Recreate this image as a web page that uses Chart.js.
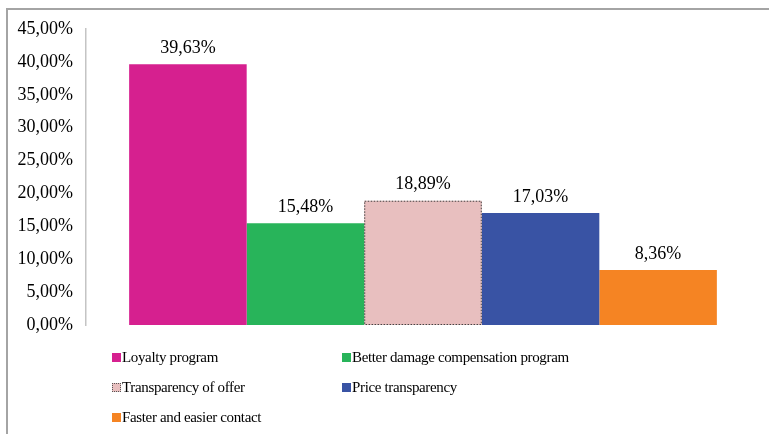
<!DOCTYPE html>
<html>
<head>
<meta charset="utf-8">
<script src="https://cdn.jsdelivr.net/npm/chart.js@4/dist/chart.umd.min.js"></script>
<style>
	html, body { margin: 0; padding: 0; background: #fff; }
	#wrap { position: relative; width: 769px; height: 434px; overflow: hidden; }
	#frame { position: absolute; left: 6px; top: 8px; width: 800px; height: 500px;
		border-top: 2px solid #a4a4a4; border-left: 2px solid #a4a4a4; }
	canvas { position: absolute; left: 0; top: 0; }
	#legend { position: absolute; left: 112px; top: 342px; display: grid;
		grid-template-columns: 230px 300px; grid-auto-rows: 30px;
		font-family: 'Liberation Serif', 'Times New Roman', serif; font-size: 15px;
		letter-spacing: -0.35px; color: #000; }
	#legend .item { display: flex; align-items: center; white-space: nowrap; }
	#legend .box { width: 9px; height: 9px; margin-right: 1px; box-sizing: border-box; }
</style>
</head>
<body>
<div id="wrap">
	<div id="frame"></div>
	<canvas id="myChart" width="769" height="434"></canvas>
	<div id="legend"></div>
</div>
<script>
// data
const seriesNames = [
	'Loyalty program',
	'Better damage compensation program',
	'Transparency of offer',
	'Price transparency',
	'Faster and easier contact',
];
const seriesValues = [39.63, 15.48, 18.89, 17.03, 8.36];
const seriesColors = ['#d6208f', '#28b45a', '#e8bfbf', '#3953a4', '#f58423'];
const yTicks = [0, 5, 10, 15, 20, 25, 30, 35, 40, 45];

const fmt = (v) => v.toFixed(2).replace('.', ',') + '%';

Chart.defaults.font.family = "'Liberation Serif', 'Times New Roman', serif";
Chart.defaults.color = '#000';

// value labels above bars + dotted outline on the light pink bar
const valueLabels = {
	id: 'valueLabels',
	afterDatasetsDraw(chart) {
		const ctx = chart.ctx;
		ctx.save();
		// dotted border (bars do not support borderDash)
		const pb = chart.getDatasetMeta(2).data[0];
		ctx.strokeStyle = '#444';
		ctx.lineWidth = 1;
		ctx.setLineDash([1.5, 1.5]);
		ctx.strokeRect(pb.x - pb.width / 2 + 0.5, pb.y + 0.5, pb.width - 1, pb.base - pb.y - 1);
		ctx.setLineDash([]);

		ctx.font = "18px 'Liberation Serif', 'Times New Roman', serif";
		ctx.fillStyle = '#000';
		ctx.textAlign = 'center';
		ctx.textBaseline = 'bottom';
		chart.data.datasets.forEach((ds, i) => {
			const bar = chart.getDatasetMeta(i).data[0];
			ctx.fillText(fmt(ds.data[0]), bar.x, bar.y - 7);
		});
		ctx.restore();
	},
};

const ctx = document.getElementById('myChart').getContext('2d');
const myChart = new Chart(ctx, {
	type: 'bar',
	data: {
		labels: [''],
		datasets: seriesNames.map((name, i) => ({
			label: name,
			data: [seriesValues[i]],
			backgroundColor: seriesColors[i],
			borderWidth: 0,
		})),
	},
	options: {
		responsive: false,
		animation: false,
		layout: {
			padding: { left: 0, top: 29, right: 9, bottom: 109 },
		},
		datasets: {
			bar: { barPercentage: 1, categoryPercentage: 0.872 },
		},
		plugins: {
			legend: { display: false },
			tooltip: { enabled: false },
		},
		scales: {
			x: { display: false },
			y: {
				min: 0,
				max: 45,
				afterFit: (scale) => { scale.width = 86; },
				afterBuildTicks: (scale) => { scale.ticks = yTicks.map((v) => ({ value: v })); },
				grid: { display: false, drawTicks: false },
				border: { display: true, color: '#c4c4c4', width: 1.5 },
				ticks: {
					padding: 13,
					font: { size: 18 },
					callback: (v) => fmt(v),
				},
			},
		},
	},
	plugins: [valueLabels],
});

// html legend
const legend = document.getElementById('legend');
seriesNames.forEach((name, i) => {
	const item = document.createElement('div');
	item.className = 'item';
	const box = document.createElement('span');
	box.className = 'box';
	box.style.background = seriesColors[i];
	if (i === 2) box.style.border = '1px dotted #555';
	const txt = document.createElement('span');
	txt.textContent = name;
	item.appendChild(box);
	item.appendChild(txt);
	legend.appendChild(item);
});
</script>
</body>
</html>
